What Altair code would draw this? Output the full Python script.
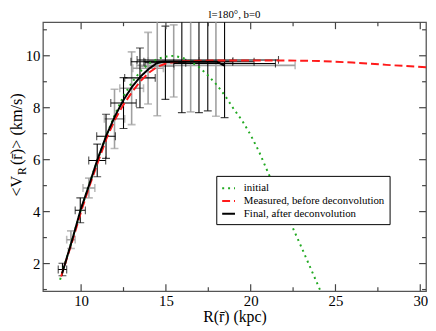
import altair as alt
import pandas as pd

# ---------------- data ----------------
green_x = [8.76, 9.0, 9.5, 10.0, 10.5, 11.0, 11.5, 12.0, 12.5, 13.0, 13.5, 14.0, 14.5, 15.0, 15.5,
           16.0, 16.5, 17.0, 17.5, 18.0, 18.5, 19.0, 19.5, 20.0, 20.5, 21.0, 21.5, 22.0, 22.5,
           23.0, 23.5, 24.0, 24.2]
green_y = [1.38, 1.9, 2.98, 4.1, 5.1, 6.05, 6.95, 7.75, 8.45, 8.98, 9.4, 9.7, 9.88, 9.97, 10.0,
           9.92, 9.76, 9.54, 9.23, 8.88, 8.45, 7.95, 7.5, 6.95, 6.3, 5.54, 4.8, 4.08, 3.35,
           2.62, 1.87, 1.12, 0.82]

red_x = [8.82, 9.5, 10.0, 10.5, 11.0, 11.5, 12.0, 12.5, 13.0, 13.5, 14.0, 14.5, 15.0, 15.5, 16.0,
         17.0, 18.0, 20.0, 22.0, 23.0, 24.0, 25.0, 26.0, 27.0, 28.0, 29.0, 30.34]
red_y = [1.5, 2.9, 4.0, 5.0, 5.92, 6.82, 7.55, 8.12, 8.6, 9.02, 9.35, 9.58, 9.7, 9.76, 9.79,
         9.81, 9.82, 9.82, 9.82, 9.81, 9.8, 9.77, 9.74, 9.7, 9.65, 9.61, 9.56]

black_x = [8.88, 9.49, 9.98, 10.5, 10.95, 11.5, 12.0, 12.5, 13.0, 13.5, 14.0, 14.45, 14.8,
           16.0, 17.0, 18.0, 18.45]
black_y = [1.62, 2.95, 4.09, 5.08, 5.98, 6.95, 7.68, 8.3, 8.8, 9.2, 9.5, 9.71, 9.77,
           9.77, 9.77, 9.77, 9.62]

series_names = ["initial", "Measured, before deconvolution", "Final, after deconvolution"]

# error-bar points (final = black, measured = gray)
blk_x = [8.9, 9.95, 10.95, 11.47, 12.5, 13.47, 14.97, 15.94, 16.95, 17.47, 18.46]
blk_y = [1.77, 4.05, 5.97, 6.9, 8.18, 9.15, 9.73, 9.77, 9.77, 9.84, 9.7]
blk_dx = [0.25, 0.3, 0.5, 0.55, 0.75, 0.9, 1.2, 3.0, 3.25, 4.17, 3.0]
blk_dy = [0.24, 0.48, 0.63, 0.85, 0.98, 1.15, 1.41, 1.96, 1.96, 1.96, 2.08]

gry_x = [9.4, 10.46, 11.97, 12.98, 13.95, 14.49, 15.46, 16.46, 17.95]
gry_y = [2.92, 4.91, 7.57, 8.75, 9.52, 9.6, 9.8, 9.8, 9.63]
gry_dx = [0.25, 0.35, 0.6, 0.7, 0.9, 1.0, 1.5, 2.5, 4.67]
gry_dy = [0.34, 0.38, 1.14, 1.4, 1.38, 1.91, 1.39, 1.96, 1.96]

x_major = [10, 15, 20, 25, 30]
x_minor = [12.5, 17.5, 22.5, 27.5]
y_major = [2, 4, 6, 8, 10]
y_minor = [1, 3, 5, 7, 9, 11]

title_text = "l=180°, b=0"
x_title = "R(r\u0304) (kpc)"
y_title_parts = ["<V", "R", "(r\u0304)> (km/s)"]

# ---------------- layout ----------------
W, H = 389, 273
SERIF = "'Liberation Serif', 'Times New Roman', serif"
xs = alt.Scale(domain=[7.75, 30.34], nice=False, zero=False)
ys = alt.Scale(domain=[0.94, 11.29], nice=False, zero=False)

X_AX = alt.Axis(values=x_major, format="d", ticks=False, domain=False, grid=False,
                labelFont=SERIF, labelFontSize=15, labelColor="black", labelPadding=3,
                title=x_title, titleFont=SERIF, titleFontSize=16, titleFontWeight="normal",
                titleColor="black", titlePadding=0)
Y_AX = alt.Axis(values=y_major, format="d", ticks=False, domain=False, grid=False,
                labelFont=SERIF, labelFontSize=15, labelColor="black", labelPadding=3,
                title="")

rows = []
for name, xv, yv in zip(series_names, [green_x, red_x, black_x], [green_y, red_y, black_y]):
    for a, b in zip(xv, yv):
        rows.append({"x": a, "y": b, "series": name})
curves = pd.DataFrame(rows)

LEG = alt.Legend(orient="none", legendX=176, legendY=156)
lines = alt.Chart(curves).mark_line(strokeWidth=2, clip=True, strokeCap="butt").encode(
    x=alt.X("x:Q", scale=xs, axis=X_AX),
    y=alt.Y("y:Q", scale=ys, axis=Y_AX),
    color=alt.Color("series:N", title=None,
                    scale=alt.Scale(domain=series_names, range=["#22aa22", "#ff1a1a", "#000000"]),
                    legend=LEG),
    strokeDash=alt.StrokeDash("series:N", title=None,
                              scale=alt.Scale(domain=series_names, range=[[2, 4], [8, 4], [1, 0]]),
                              legend=LEG),
    order=alt.Order("x:Q"),
)


def err_layers(xv, yv, dx, dy, color, w):
    df = pd.DataFrame({
        "x": xv, "y": yv,
        "xlo": [a - b for a, b in zip(xv, dx)], "xhi": [a + b for a, b in zip(xv, dx)],
        "ylo": [a - b for a, b in zip(yv, dy)], "yhi": [a + b for a, b in zip(yv, dy)],
    })
    base = alt.Chart(df)
    X = lambda f: alt.X(f + ":Q", scale=xs, axis=X_AX)
    Y = lambda f: alt.Y(f + ":Q", scale=ys, axis=Y_AX)
    vb = base.mark_rule(color=color, strokeWidth=w, clip=True).encode(x=X("x"), y=Y("ylo"), y2="yhi:Q")
    hb = base.mark_rule(color=color, strokeWidth=w, clip=True).encode(x=X("xlo"), x2="xhi:Q", y=Y("y"))
    c1 = base.mark_tick(orient="horizontal", size=8, thickness=w, color=color, clip=True).encode(x=X("x"), y=Y("ylo"))
    c2 = base.mark_tick(orient="horizontal", size=8, thickness=w, color=color, clip=True).encode(x=X("x"), y=Y("yhi"))
    c3 = base.mark_tick(orient="vertical", size=8, thickness=w, color=color, clip=True).encode(x=X("xlo"), y=Y("y"))
    c4 = base.mark_tick(orient="vertical", size=8, thickness=w, color=color, clip=True).encode(x=X("xhi"), y=Y("y"))
    return [vb, hb, c1, c2, c3, c4]


gray_layers = err_layers(gry_x, gry_y, gry_dx, gry_dy, "#a0a0a0", 1.6)
black_layers = err_layers(blk_x, blk_y, blk_dx, blk_dy, "#000000", 1.1)

TICK_C = "#444444"


def xticks(vals, ln):
    df = pd.DataFrame({"x": vals})
    b = alt.Chart(df).mark_rule(color=TICK_C, strokeWidth=1.2)
    return [
        b.encode(x=alt.X("x:Q", scale=xs, axis=X_AX), y=alt.value(H), y2=alt.value(H - ln)),
        b.encode(x=alt.X("x:Q", scale=xs, axis=X_AX), y=alt.value(0), y2=alt.value(ln)),
    ]


def yticks(vals, ln):
    df = pd.DataFrame({"y": vals})
    b = alt.Chart(df).mark_rule(color=TICK_C, strokeWidth=1.2)
    return [
        b.encode(y=alt.Y("y:Q", scale=ys, axis=Y_AX), x=alt.value(0), x2=alt.value(ln)),
        b.encode(y=alt.Y("y:Q", scale=ys, axis=Y_AX), x=alt.value(W), x2=alt.value(W - ln)),
    ]


tick_layers = xticks(x_major, 7) + xticks(x_minor, 4) + yticks(y_major, 7) + yticks(y_minor, 4)

# y-axis title built from pieces (subscript R)
yt = []
for txt, xp, yp, fs in zip(y_title_parts, [-26, -21.5, -26], [177, 155, 145], [16.5, 12, 16.5]):
    yt.append(alt.Chart(pd.DataFrame({"t": [txt]})).mark_text(
        angle=270, align="left", baseline="middle", font=SERIF, fontSize=fs, color="black"
    ).encode(text="t:N", x=alt.value(xp), y=alt.value(yp)))

chart = alt.layer(
    *gray_layers, *black_layers, lines, *tick_layers, *yt
).properties(
    width=W, height=H,
    title=alt.TitleParams(title_text, font=SERIF, fontSize=11, fontWeight="normal",
                          color="black", anchor="middle", frame="group", offset=2),
    autosize=alt.AutoSizeParams(type="none"),
    padding={"left": 35.5, "top": 12, "right": 2, "bottom": 36},
).configure(
    font=SERIF
).configure_view(
    stroke="#555555", strokeWidth=1.3
).configure_legend(
    strokeColor="black", fillColor="white", padding=5, cornerRadius=0,
    symbolType="stroke", symbolStrokeWidth=2, symbolSize=169,
    labelFont=SERIF, labelFontSize=11, labelColor="black", labelOffset=8,
    rowPadding=0, labelLimit=300,
)

chart.save("out.html", embed_options={"renderer": "svg", "actions": False})
